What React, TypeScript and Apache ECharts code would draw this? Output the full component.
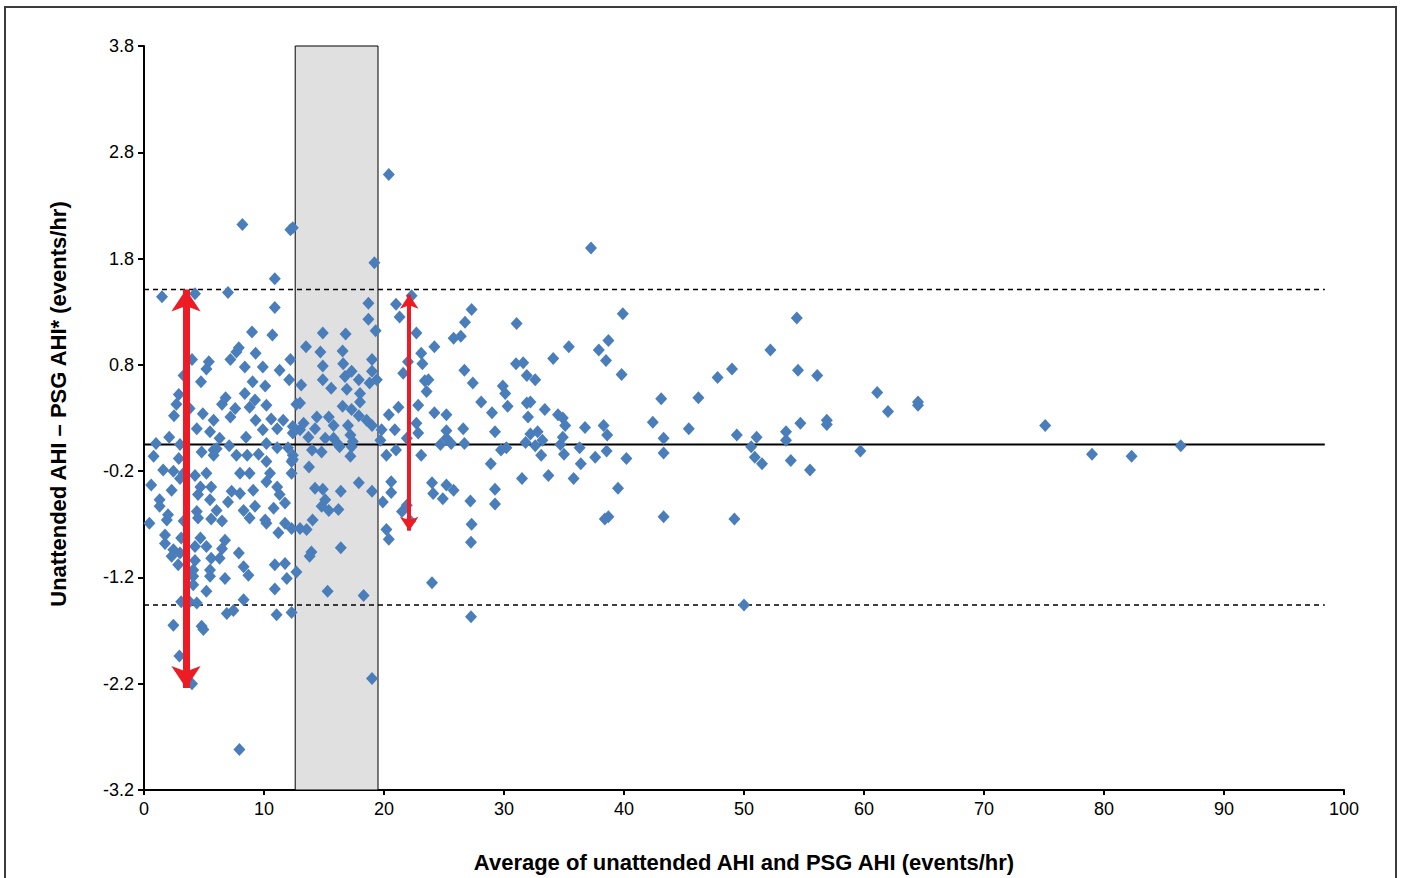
import React, { useEffect, useRef } from "react";
import * as echarts from "echarts";

// Bland–Altman style data: [average AHI, difference]
const pointsLow: number[][] = [
  [8.2,2.12],[12.2,2.07],[12.4,2.09],[10.9,1.61],[1.5,1.44],[4.25,1.47],[7.0,1.48],[10.9,1.34],[9.0,1.11],[10.7,1.08],
  [7.9,0.96],[7.7,0.92],[9.3,0.91],[5.4,0.83],[7.2,0.85],[4.0,0.85],[8.4,0.78],[5.2,0.76],[9.9,0.78],[12.2,0.85],
  [3.3,0.70],[4.75,0.64],[11.3,0.75],[12.1,0.66],[9.05,0.64],[10.1,0.60],[8.4,0.53],[2.9,0.52],[6.8,0.49],[9.25,0.47],
  [2.7,0.43],[6.5,0.43],[8.8,0.40],[7.6,0.39],[3.8,0.39],[10.2,0.42],[2.5,0.32],[4.9,0.34],[7.2,0.31],[5.8,0.28],
  [9.3,0.28],[10.6,0.29],[11.6,0.28],[4.4,0.20],[5.5,0.17],[9.9,0.19],[11.1,0.20],[12.4,0.22],[2.1,0.12],[8.5,0.12],
  [6.3,0.11],[1.0,0.06],[3.0,0.05],[4.8,-0.02],[5.8,0.0],[7.1,0.04],[10.2,0.06],[11.1,0.02],[12.0,0.02],[0.8,-0.06],
  [2.9,-0.08],[7.7,-0.05],[8.6,-0.05],[9.55,-0.04],[12.4,-0.05],[6.05,0.01],[5.8,-0.05],[10.2,-0.11],[12.3,-0.11],[12.4,0.16],
  [1.6,-0.19],[2.45,-0.20],[3.3,-0.22],[4.25,-0.24],[5.2,-0.22],[8.0,-0.22],[8.8,-0.22],[10.5,-0.22],[12.3,-0.22],[12.4,-0.09],
  [0.6,-0.33],[2.3,-0.38],[3.0,-0.27],[4.7,-0.35],[5.6,-0.35],[7.3,-0.39],[8.0,-0.41],[9.1,-0.38],[10.2,-0.30],[11.1,-0.35],
  [11.3,-0.42],[1.3,-0.47],[1.3,-0.53],[4.5,-0.42],[5.5,-0.47],[6.05,-0.57],[7.0,-0.49],[8.3,-0.57],[9.25,-0.53],[10.1,-0.66],
  [10.8,-0.55],[11.75,-0.50],[2.0,-0.61],[1.9,-0.66],[0.45,-0.69],[3.3,-0.67],[4.5,-0.64],[4.4,-0.58],[5.6,-0.65],[6.5,-0.67],
  [8.8,-0.64],[10.2,-0.69],[11.2,-0.78],[11.75,-0.69],[12.3,-0.74],[1.75,-0.80],[1.75,-0.88],[3.1,-0.83],[4.7,-0.83],[6.75,-0.85],
  [6.5,-0.93],[5.2,-0.91],[2.45,-0.94],[2.3,-1.0],[3.0,-0.97],[4.25,-0.91],[5.6,-1.02],[6.3,-1.02],[7.9,-0.97],[4.25,-1.04],
  [4.1,-1.13],[2.85,-1.08],[5.5,-1.13],[8.3,-1.10],[8.7,-1.18],[10.9,-1.08],[11.75,-1.07],[4.1,-1.19],[5.5,-1.19],[6.75,-1.21],
  [11.9,-1.21],[4.1,-1.27],[5.2,-1.33],[10.9,-1.31],[3.1,-1.43],[3.8,-1.43],[4.4,-1.44],[8.3,-1.41],[6.9,-1.54],[7.45,-1.51],
  [11.05,-1.55],[12.3,-1.53],[2.45,-1.65],[4.8,-1.66],[4.95,-1.69],[2.95,-1.94],[4.0,-2.20],[7.95,-2.82]
];

const pointsBand: number[][] = [
  [12.7,0.43],[13.5,0.97],[14.9,1.10],[16.8,1.09],[14.7,0.92],[16.55,0.93],[16.6,0.81],[14.9,0.79],[19.0,0.85],[19.0,0.74],
  [13.1,0.61],[14.9,0.66],[15.6,0.58],[16.75,0.69],[17.3,0.74],[16.9,0.57],[17.9,0.66],[18.0,0.53],[18.8,0.63],[19.4,0.66],
  [13.0,0.44],[18.0,0.45],[16.55,0.41],[17.3,0.38],[14.4,0.31],[15.4,0.31],[17.9,0.32],[18.55,0.28],[19.0,0.23],[13.3,0.25],
  [13.0,0.19],[15.8,0.23],[14.25,0.20],[17.0,0.23],[17.2,0.14],[15.8,0.11],[13.7,0.12],[15.1,0.11],[14.0,0.0],[14.8,-0.02],
  [16.3,0.03],[17.4,0.08],[17.2,-0.06],[18.7,1.38],[18.7,1.23],[19.3,1.12],[19.2,1.76],[16.2,0.05],[17.3,0.03],[13.75,-0.16],
  [14.25,-0.36],[14.9,-0.37],[16.4,-0.39],[17.9,-0.31],[19.0,-0.39],[14.8,-0.53],[15.4,-0.57],[15.1,-0.47],[16.2,-0.56],[13.0,-0.74],
  [13.55,-0.75],[14.05,-0.66],[16.4,-0.92],[13.95,-0.96],[13.8,-1.0],[12.7,-1.15],[15.3,-1.33],[18.3,-1.37],[19.0,-2.15]
];

const pointsMid: number[][] = [
  [20.4,2.59],[21.0,1.37],[21.3,1.25],[22.3,1.45],[20.4,0.33],[20.9,0.19],[21.2,0.40],[21.6,0.72],[22.0,0.83],[22.7,1.10],
  [23.1,0.91],[23.2,0.81],[24.2,0.97],[23.4,0.65],[23.7,0.66],[23.55,0.55],[22.85,0.42],[22.7,0.25],[22.85,0.16],[24.2,0.35],
  [25.2,0.33],[21.9,0.11],[24.7,0.05],[21.0,0.0],[23.1,-0.05],[20.2,-0.05],[25.2,0.11],[19.8,0.19],[19.7,0.09],
  [20.6,-0.30],[20.6,-0.40],[19.9,-0.49],[24.0,-0.31],[24.1,-0.41],[24.9,-0.46],[25.2,-0.33],[21.5,-0.58],[21.9,-0.52],[22.2,-0.67],
  [20.2,-0.75],[20.4,-0.84],[24.0,-1.25],
  [37.25,1.90],[27.3,1.32],[31.05,1.19],[39.9,1.28],[26.75,1.20],[25.8,1.05],[26.4,1.07],[35.4,0.97],[34.1,0.86],[37.9,0.94],
  [38.7,1.03],[38.5,0.84],[39.8,0.71],[31.0,0.81],[31.6,0.82],[26.7,0.75],[27.4,0.63],[31.9,0.70],[32.6,0.66],[29.9,0.60],
  [30.1,0.53],[28.1,0.45],[30.3,0.41],[31.9,0.44],[32.2,0.45],[32.0,0.31],[29.0,0.35],[33.4,0.38],[34.5,0.33],[34.9,0.30],
  [35.1,0.23],[36.75,0.21],[38.3,0.23],[38.6,0.14],[25.2,0.18],[26.6,0.20],[29.25,0.17],[25.6,0.06],[26.7,0.06],[32.2,0.15],
  [32.8,0.17],[31.8,0.07],[32.6,0.04],[33.2,0.09],[34.9,0.12],[34.7,0.05],[29.75,0.0],[30.2,0.02],[33.1,-0.05],[35.0,-0.04],
  [36.3,0.02],[38.55,-0.01],[37.6,-0.07],[40.2,-0.08],[36.4,-0.13],[28.9,-0.13],[31.5,-0.27],[33.7,-0.24],[35.8,-0.27],[25.8,-0.38],
  [29.25,-0.37],[27.2,-0.48],[29.25,-0.51],[39.5,-0.36],[38.4,-0.65],[38.7,-0.63],[27.3,-0.70],[27.25,-0.87],[27.25,-1.57]
];

const pointsHigh: number[][] = [
  [54.4,1.24],[52.2,0.94],[49.0,0.76],[47.8,0.68],[54.5,0.75],[56.1,0.70],[43.1,0.48],[46.2,0.49],[61.1,0.54],[62.0,0.36],
  [42.4,0.26],[45.4,0.20],[54.7,0.25],[56.9,0.28],[56.9,0.24],[43.3,0.11],[49.4,0.14],[51.05,0.12],[53.5,0.17],[53.5,0.09],
  [50.6,0.03],[43.3,-0.03],[50.9,-0.07],[51.5,-0.13],[53.9,-0.10],[55.5,-0.19],[59.7,-0.01],[43.3,-0.63],[49.2,-0.65],[50.0,-1.46],
  [64.5,0.45],[64.5,0.42],[75.1,0.23],[79.0,-0.04],[82.3,-0.06],[86.4,0.04]
];

// Reference lines
const meanDiff = 0.05;
const upperLimit = 1.51;
const lowerLimit = -1.46;
const lineXRange = [0, 98.4];

// Shaded band
const bandX = [12.6, 19.5];

// Arrows: [x, yTop, yBottom]
const arrowBig = [3.5, 1.51, -2.24];
const arrowSmall = [22.1, 1.46, -0.76];

const yTicks = [-3.2, 3.8];
const xTicks = [0, 100];

const xTitle = "Average of unattended AHI and PSG AHI (events/hr)";
const yTitle = "Unattended AHI – PSG AHI* (events/hr)";

const FONT = "'Liberation Sans', Arial, sans-serif";

export default function App() {
  const ref = useRef<HTMLDivElement>(null);
  useEffect(() => {
    if (!ref.current) return;
    const chart = echarts.init(ref.current, null, { renderer: "svg" });
    const allPoints = [...pointsLow, ...pointsBand, ...pointsMid, ...pointsHigh];
    const hLine = (y: number) => [[lineXRange[0], y], [lineXRange[1], y]];
    chart.setOption({
      animation: false,
      backgroundColor: "#ffffff",
      grid: { left: 144, right: 57, top: 46, bottom: 88, containLabel: false },
      xAxis: {
        type: "value",
        min: xTicks[0],
        max: xTicks[1],
        interval: 10,
        name: xTitle,
        nameLocation: "middle",
        nameGap: 61,
        nameTextStyle: { fontFamily: FONT, fontSize: 22, fontWeight: "bold", color: "#000" },
        axisLine: { onZero: false, lineStyle: { color: "#000", width: 2 } },
        axisTick: { length: 5, lineStyle: { color: "#000", width: 2 } },
        axisLabel: { fontFamily: FONT, fontSize: 18, color: "#000", margin: 10 },
        splitLine: { show: false },
      },
      yAxis: {
        type: "value",
        min: yTicks[0],
        max: yTicks[1],
        interval: 1,
        axisLine: { show: true, onZero: false, lineStyle: { color: "#000", width: 2 } },
        axisTick: { show: true, length: 6, lineStyle: { color: "#000", width: 2 } },
        axisLabel: {
          fontFamily: FONT,
          fontSize: 18,
          color: "#000",
          margin: 10,
          formatter: (v: number) => v.toFixed(1),
        },
        splitLine: { show: false },
      },
      graphic: [
        {
          type: "rect",
          shape: { x: 5, y: 7, width: 1391, height: 900 },
          style: { fill: "none", stroke: "#3c3c3c", lineWidth: 2 },
          z: 100,
          silent: true,
        },
        {
          type: "text",
          x: 58,
          y: 404,
          rotation: Math.PI / 2,
          style: {
            text: yTitle,
            fontFamily: FONT,
            fontSize: 22,
            fontWeight: "bold",
            fill: "#000",
            align: "center",
            verticalAlign: "middle",
          },
          silent: true,
        },
      ],
      series: [
        {
          type: "scatter",
          data: [],
          z: 1,
          markArea: {
            silent: true,
            itemStyle: { color: "#e0e0e0", borderColor: "#000", borderWidth: 1 },
            data: [[{ xAxis: bandX[0], yAxis: yTicks[1] }, { xAxis: bandX[1], yAxis: yTicks[0] }]],
          },
        },
        {
          type: "line",
          data: hLine(meanDiff),
          symbol: "none",
          z: 2,
          lineStyle: { color: "#000", width: 2 },
        },
        {
          type: "line",
          data: hLine(upperLimit),
          symbol: "none",
          z: 2,
          lineStyle: { color: "#000", width: 1.5, type: [5, 4] },
        },
        {
          type: "line",
          data: hLine(lowerLimit),
          symbol: "none",
          z: 2,
          lineStyle: { color: "#000", width: 1.5, type: [5, 4] },
        },
        {
          type: "scatter",
          data: allPoints,
          symbol: "diamond",
          symbolSize: [12, 13],
          z: 3,
          itemStyle: { color: "#4a7ebb", opacity: 1 },
        },
        {
          type: "lines",
          coordinateSystem: "cartesian2d",
          z: 5,
          symbol: ["arrow", "arrow"],
          symbolSize: 22,
          lineStyle: { color: "#ed1c24", width: 7, opacity: 1 },
          data: [{ coords: [[arrowBig[0], arrowBig[1]], [arrowBig[0], arrowBig[2]]] }],
        },
        {
          type: "lines",
          coordinateSystem: "cartesian2d",
          z: 5,
          symbol: ["arrow", "arrow"],
          symbolSize: 14,
          lineStyle: { color: "#ed1c24", width: 4, opacity: 1 },
          data: [{ coords: [[arrowSmall[0], arrowSmall[1]], [arrowSmall[0], arrowSmall[2]]] }],
        },
      ],
    });
    return () => chart.dispose();
  }, []);
  return (
    <div
      ref={ref}
      style={{ position: "absolute", left: 0, top: 0, width: 1401, height: 878 }}
    />
  );
}
